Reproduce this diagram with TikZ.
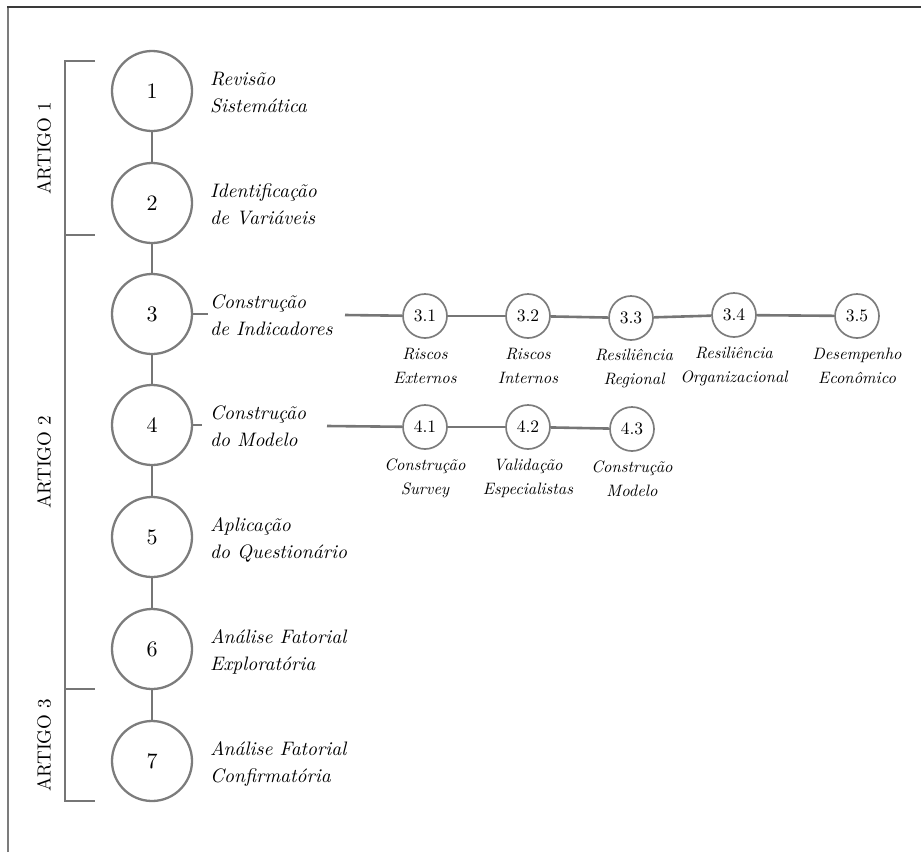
\documentclass[tikz,border=0pt]{standalone}
\usepackage{fontspec}
\setmainfont{lmroman10-regular.otf}[ItalicFont=lmroman10-italic.otf]
\definecolor{circgray}{HTML}{7C7C7C}
\definecolor{linegray}{HTML}{767676}
\definecolor{framedark}{HTML}{3A3A3A}
\begin{document}
\begin{tikzpicture}[x=1pt,y=-1pt,
  gline/.style={draw=linegray, line width=2.6pt},
  bline/.style={draw=linegray, line width=2.4pt},
  bigc/.style={circle, draw=circgray, line width=2.3pt, minimum size=80pt, inner sep=0pt, font=\fontsize{22}{27}\selectfont},
  smallc/.style={circle, draw=circgray, line width=1.7pt, minimum size=44pt, inner sep=0pt, font=\fontsize{17.5}{20}\selectfont},
  mainlab/.style={anchor=north west, inner sep=0pt, align=left, font=\fontsize{19.5}{27}\selectfont\itshape},
  sublab/.style={anchor=north, inner sep=0pt, align=center, font=\fontsize{16.5}{24}\selectfont\itshape},
  artlab/.style={rotate=90, inner sep=0pt, font=\fontsize{19}{24}\selectfont}]
\useasboundingbox (0,0) rectangle (921,852);
% frame
\draw[draw=circgray, line width=2pt] (8,852) -- (8,7);
\draw[draw=framedark, line width=2pt] (7,7) -- (921,7);
% bracket
\draw[bline] (95,61) -- (65,61) -- (65,801) -- (95,801);
\draw[bline] (65,235) -- (95,235);
\draw[bline] (65,689) -- (95,689);
\node[artlab] (a1) at (44,148) {ARTIGO 1};
\node[artlab] (a2) at (44,462) {ARTIGO 2};
\node[artlab] (a3) at (44,745) {ARTIGO 3};
% main circles
\node[bigc] (c1) at (152,91) {1};
\node[bigc] (c2) at (152,203) {2};
\node[bigc] (c3) at (152,314) {3};
\node[bigc] (c4) at (152,425) {4};
\node[bigc] (c5) at (152,537) {5};
\node[bigc] (c6) at (152,649) {6};
\node[bigc] (c7) at (152,761) {7};
\foreach \a/\b in {c1/c2,c2/c3,c3/c4,c4/c5,c5/c6,c6/c7} \draw[gline] (\a) -- (\b);
% main labels
\node[mainlab] (l1) at (210,66) {\strut Revisão\\Sistemática};
\node[mainlab] (l2) at (210,178) {\strut Identificação\\de Variáveis};
\node[mainlab] (l3) at (210,289) {\strut Construção\\de Indicadores};
\node[mainlab] (l4) at (210,400) {\strut Construção\\do Modelo};
\node[mainlab] (l5) at (210,512) {\strut Aplicação\\do Questionário};
\node[mainlab] (l6) at (210,624) {\strut Análise Fatorial\\Exploratória};
\node[mainlab] (l7) at (210,736) {\strut Análise Fatorial\\Confirmatória};
% sub circles row 3
\node[smallc] (s31) at (425,316) {3.1};
\node[smallc] (s32) at (528,316) {3.2};
\node[smallc] (s33) at (631,318) {3.3};
\node[smallc] (s34) at (734,315) {3.4};
\node[smallc] (s35) at (857,316) {3.5};
% sub circles row 4
\node[smallc] (s41) at (425,427) {4.1};
\node[smallc] (s42) at (528,427) {4.2};
\node[smallc] (s43) at (632,429) {4.3};
% sub labels
\node[sublab] (m31) at (425,342) {\strut Riscos\\Externos};
\node[sublab] (m32) at (528,342) {\strut Riscos\\Internos};
\node[sublab] (m33) at (634,343) {\strut Resiliência\\Regional};
\node[sublab] (m34) at (734,341) {\strut Resiliência\\Organizacional};
\node[sublab] (m35) at (857,342) {\strut Desempenho\\Econômico};
\node[sublab] (m41) at (425,453) {\strut Construção\\Survey};
\node[sublab] (m42) at (528,453) {\strut Validação\\Especialistas};
\node[sublab] (m43) at (632,455) {\strut Construção\\Modelo};
% stubs and connectors
\coordinate (k3) at (208,314);
\coordinate (k4) at (202,425);
\coordinate (t3) at (345,315);
\coordinate (t4) at (327,426);
\draw[gline] (c3.east) -- (k3);
\draw[gline] (c4.east) -- (k4);
\draw[gline] (t3) -- (s31);
\draw[gline] (t4) -- (s41);
\foreach \a/\b in {s31/s32,s32/s33,s33/s34,s34/s35,s41/s42,s42/s43} \draw[gline] (\a) -- (\b);
\end{tikzpicture}
\end{document}
